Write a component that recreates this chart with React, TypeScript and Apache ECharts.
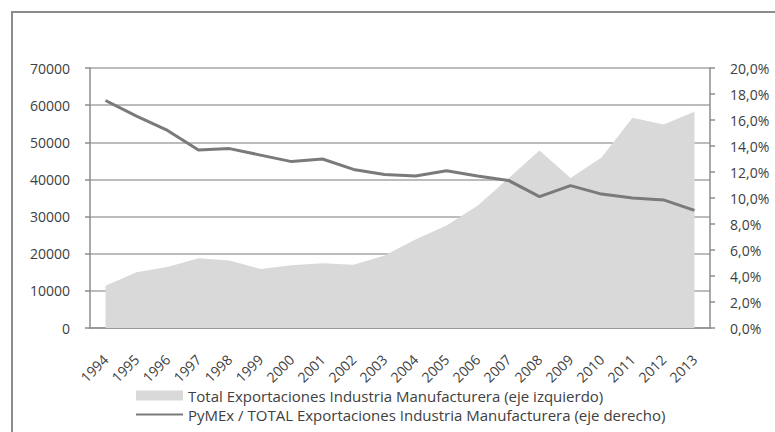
import React, { useEffect, useRef } from "react";
import * as echarts from "echarts";

const years = ["1994","1995","1996","1997","1998","1999","2000","2001","2002","2003","2004","2005","2006","2007","2008","2009","2010","2011","2012","2013"];
const totalExports = [11400, 15000, 16400, 18800, 18200, 15900, 16900, 17400, 17000, 19500, 23800, 27600, 32900, 40300, 47800, 40400, 45900, 56600, 54800, 58200];
const pymeShare = [17.5, 16.3, 15.2, 13.7, 13.8, 13.3, 12.8, 13.0, 12.2, 11.8, 11.7, 12.1, 11.7, 11.35, 10.1, 10.95, 10.3, 10.0, 9.85, 9.05];
const areaName = "Total Exportaciones Industria Manufacturera (eje izquierdo)";
const lineName = "PyMEx / TOTAL Exportaciones Industria Manufacturera (eje derecho)";

const FONT = "'Open Sans', Lato, sans-serif";
const TEXT = "#404040";
const AXIS = "#8c8c8c";

export default function App() {
  const ref = useRef<HTMLDivElement>(null);
  useEffect(() => {
    document.body.style.margin = "0";
    const chart = echarts.init(ref.current!, null, { renderer: "svg" });
    chart.setOption({
      animation: false,
      textStyle: { fontFamily: FONT },
      grid: { left: 90, right: 65, top: 68, bottom: 104, containLabel: false },
      graphic: [
        {
          type: "rect",
          shape: { x: 12, y: 12, width: 800, height: 500 },
          style: { fill: "none", stroke: "#8c8c8c", lineWidth: 2 },
          z: -10,
        },
      ],
      legend: {
        orient: "vertical",
        left: 130,
        top: 383,
        padding: 5,
        itemWidth: 47,
        itemHeight: 10,
        itemGap: 4,
        textStyle: { fontFamily: FONT, fontSize: 15, color: TEXT },
        data: [
          { name: areaName, icon: "rect" },
          { name: lineName, itemStyle: { color: "rgba(0,0,0,0)", borderWidth: 0 } },
        ],
      },
      xAxis: {
        type: "category",
        data: years,
        boundaryGap: true,
        axisLine: { lineStyle: { color: AXIS, width: 1.5 } },
        axisTick: { lineStyle: { color: AXIS, width: 1.5 }, length: 5 },
        axisLabel: { rotate: 45, margin: 29, color: TEXT, fontSize: 14, fontFamily: FONT, interval: 0 },
      },
      yAxis: [
        {
          type: "value",
          min: 0,
          max: 70000,
          interval: 10000,
          axisLine: { show: true, lineStyle: { color: AXIS, width: 1.5 } },
          axisTick: { show: true, length: 5, lineStyle: { color: AXIS, width: 1.5 } },
          splitLine: { lineStyle: { color: "#a6a6a6", width: 1.5 } },
          axisLabel: { margin: 20, color: TEXT, fontSize: 14, fontFamily: FONT, formatter: (v: number) => String(v) },
        },
        {
          type: "value",
          min: 0,
          max: 20,
          interval: 2,
          position: "right",
          axisLine: { show: true, lineStyle: { color: AXIS, width: 1.5 } },
          axisTick: { show: true, length: 5, lineStyle: { color: AXIS, width: 1.5 } },
          splitLine: { show: false },
          axisLabel: {
            margin: 20,
            color: TEXT,
            fontSize: 14,
            fontFamily: FONT,
            formatter: (v: number) => v.toFixed(1).replace(".", ",") + "%",
          },
        },
      ],
      series: [
        {
          name: areaName,
          type: "line",
          yAxisIndex: 0,
          data: totalExports,
          symbol: "none",
          color: "#d9d9d9",
          lineStyle: { width: 0, color: "#d9d9d9" },
          areaStyle: { color: "#d9d9d9", opacity: 1 },
          itemStyle: { color: "#d9d9d9" },
          z: 1,
        },
        {
          name: lineName,
          type: "line",
          yAxisIndex: 1,
          data: pymeShare,
          symbol: "none",
          color: "#7a7a7a",
          lineStyle: { width: 3, color: "#7a7a7a" },
          itemStyle: { color: "#7a7a7a" },
          z: 3,
        },
      ],
    });
    return () => chart.dispose();
  }, []);
  return <div ref={ref} style={{ width: 775, height: 432 }} />;
}
